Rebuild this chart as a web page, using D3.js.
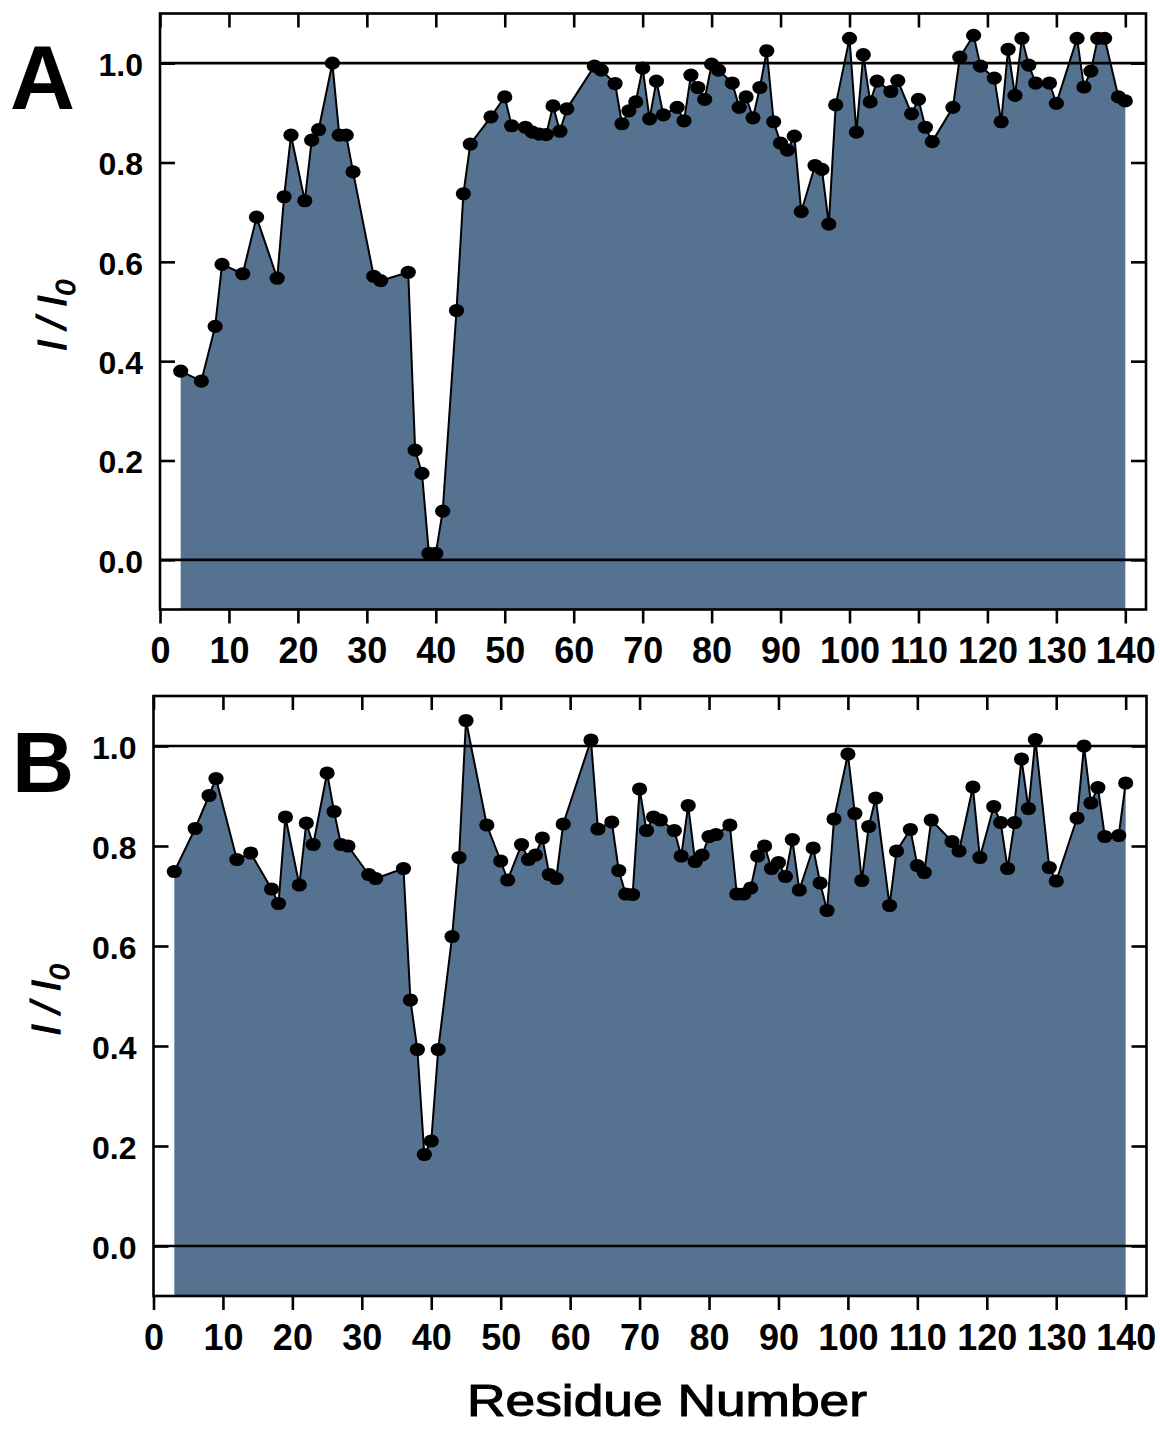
<!DOCTYPE html>
<html>
<head>
<meta charset="utf-8">
<script src="https://cdn.jsdelivr.net/npm/d3@7"></script>
<style>
  html, body { margin: 0; padding: 0; background: #ffffff; }
  svg { display: block; }
  text { font-family: "Liberation Sans", Arial, Helvetica, sans-serif; fill: #000; }
</style>
</head>
<body>
<svg id="chart" width="1160" height="1429"></svg>
<script>
// Relative peak intensity (I/I0) per residue, two conditions
const residuesA = [3,6,8,9,12,14,17,18,19,21,22,23,25,26,27,28,31,32,36,37,38,39,40,41,43,44,45,48,50,51,53,54,55,56,57,58,59,63,64,66,67,68,69,70,71,72,73,75,76,77,78,79,80,81,83,84,85,86,87,88,89,90,91,92,93,95,96,97,98,100,101,102,103,104,106,107,109,110,111,112,115,116,118,119,121,122,123,124,125,126,127,129,130,133,134,135,136,137,139,140];
const valuesA = [0.38,0.36,0.47,0.595,0.576,0.69,0.567,0.731,0.855,0.723,0.845,0.866,1.0,0.855,0.855,0.781,0.571,0.562,0.579,0.221,0.174,0.013,0.013,0.098,0.502,0.737,0.837,0.892,0.932,0.874,0.871,0.861,0.857,0.856,0.914,0.863,0.908,0.994,0.986,0.959,0.878,0.904,0.922,0.990,0.888,0.964,0.896,0.911,0.884,0.976,0.951,0.927,0.998,0.986,0.960,0.911,0.932,0.890,0.951,1.025,0.882,0.839,0.825,0.853,0.701,0.794,0.786,0.676,0.916,1.050,0.861,1.017,0.922,0.964,0.943,0.965,0.898,0.927,0.871,0.842,0.911,1.012,1.056,0.994,0.970,0.882,1.028,0.935,1.050,0.996,0.960,0.960,0.919,1.050,0.952,0.984,1.050,1.050,0.932,0.924];

const residuesB = [3,6,8,9,12,14,17,18,19,21,22,23,25,26,27,28,31,32,36,37,38,39,40,41,43,44,45,48,50,51,53,54,55,56,57,58,59,63,64,66,67,68,69,70,71,72,73,75,76,77,78,79,80,81,83,84,85,86,87,88,89,90,91,92,93,95,96,97,98,100,101,102,103,104,106,107,109,110,111,112,115,116,118,119,121,122,123,124,125,126,127,129,130,133,134,135,136,137,139,140];
const valuesB = [0.749,0.835,0.901,0.935,0.773,0.786,0.714,0.685,0.858,0.722,0.846,0.803,0.946,0.869,0.803,0.800,0.743,0.735,0.755,0.492,0.393,0.183,0.210,0.393,0.619,0.777,1.051,0.842,0.770,0.732,0.803,0.773,0.782,0.816,0.743,0.735,0.844,1.012,0.834,0.848,0.751,0.704,0.703,0.914,0.831,0.858,0.852,0.831,0.780,0.881,0.769,0.782,0.819,0.823,0.842,0.704,0.704,0.716,0.780,0.800,0.755,0.767,0.739,0.813,0.712,0.796,0.726,0.671,0.854,0.984,0.865,0.731,0.839,0.896,0.681,0.790,0.833,0.761,0.747,0.852,0.809,0.790,0.918,0.777,0.879,0.847,0.755,0.847,0.974,0.875,1.013,0.757,0.730,0.856,1.0,0.886,0.917,0.819,0.821,0.926];

const xTicks = [0,10,20,30,40,50,60,70,80,90,100,110,120,130,140];
const yTicks = [0.0,0.2,0.4,0.6,0.8,1.0];
const refLevels = [0.0, 1.0];
const xDomain = [0, 143];
const yDomain = [-0.1, 1.1];

const svg = d3.select("#chart");
const fillColor = "#557391";

function drawPanel(opts) {
  const data = opts.residues.map((r, i) => ({ r: r, v: opts.values[i] }));
  const x = d3.scaleLinear().domain(xDomain).range([opts.left, opts.right]);
  const y = d3.scaleLinear().domain(yDomain).range([opts.bottom, opts.top]);
  const g = svg.append("g");

  // shaded profile, filled down to the bottom of the frame
  const area = d3.area()
    .x(d => x(d.r))
    .y0(y(yDomain[0]))
    .y1(d => y(d.v));
  g.append("path").datum(data)
    .attr("d", area)
    .attr("fill", fillColor);

  // reference levels at 0 and 1
  g.selectAll("line.ref").data(refLevels).enter().append("line")
    .attr("class", "ref")
    .attr("x1", opts.left).attr("x2", opts.right)
    .attr("y1", d => y(d)).attr("y2", d => y(d))
    .attr("stroke", "#000").attr("stroke-width", 2.6);

  // connecting line
  const line = d3.line().x(d => x(d.r)).y(d => y(d.v));
  g.append("path").datum(data)
    .attr("d", line)
    .attr("fill", "none")
    .attr("stroke", "#000")
    .attr("stroke-width", 2)
    .attr("stroke-linejoin", "round");

  // markers
  g.selectAll("ellipse.pt").data(data).enter().append("ellipse")
    .attr("class", "pt")
    .attr("cx", d => x(d.r)).attr("cy", d => y(d.v))
    .attr("rx", 7.6).attr("ry", 6.6)
    .attr("fill", "#000");

  // axes: labelled bottom/left, ticks only on top/right, y ticks pointing in
  const fmtY = d3.format(".1f");
  const bottomAxis = d3.axisBottom(x).tickValues(xTicks).tickSize(14).tickPadding(14).tickFormat(d3.format("d"));
  const topAxis = d3.axisTop(x).tickValues(xTicks).tickSize(-14).tickFormat("");
  const leftAxis = d3.axisLeft(y).tickValues(yTicks).tickSize(-15).tickPadding(opts.left - opts.labelRight).tickFormat(fmtY);
  const rightAxis = d3.axisRight(y).tickValues(yTicks).tickSize(-15).tickFormat("");

  function styleAxis(sel) {
    sel.select(".domain").remove();
    sel.selectAll(".tick line").attr("stroke", "#000").attr("stroke-width", 2.6);
  }

  const gb = g.append("g").attr("transform", `translate(0,${opts.bottom})`).call(bottomAxis).call(styleAxis);
  gb.selectAll(".tick text")
    .attr("font-family", "'Liberation Sans', Arial, sans-serif")
    .attr("font-weight", "bold").attr("font-size", 36).attr("fill", "#000");
  g.append("g").attr("transform", `translate(0,${opts.top})`).call(topAxis).call(styleAxis);
  const gl = g.append("g").attr("transform", `translate(${opts.left},0)`).call(leftAxis).call(styleAxis);
  gl.selectAll(".tick text")
    .attr("font-family", "'Liberation Sans', Arial, sans-serif")
    .attr("font-weight", "bold").attr("font-size", 32).attr("fill", "#000")
    .attr("dy", "0.38em");
  g.append("g").attr("transform", `translate(${opts.right},0)`).call(rightAxis).call(styleAxis);

  // frame
  g.append("rect")
    .attr("x", opts.left).attr("y", opts.top)
    .attr("width", opts.right - opts.left).attr("height", opts.bottom - opts.top)
    .attr("fill", "none").attr("stroke", "#000").attr("stroke-width", 2.6);

  // y axis title: I / I0
  const yMid = (y(0) + y(1)) / 2 + opts.titleShift;
  const t = g.append("text")
    .attr("transform", `translate(${opts.titleX},${yMid}) rotate(-90)`)
    .attr("text-anchor", "middle")
    .attr("font-style", "italic")
    .attr("font-size", 40)
    .attr("stroke", "#000")
    .attr("stroke-width", 1.2);
  t.append("tspan").text("I / I");
  t.append("tspan").attr("font-size", 28).attr("dy", 9).text("0");

  // panel letter
  g.append("text")
    .attr("x", opts.letterX).attr("y", opts.letterY)
    .attr("font-weight", "bold").attr("font-size", opts.letterSize)
    .text(opts.letter);
}

drawPanel({
  residues: residuesA, values: valuesA,
  left: 160, right: 1146, top: 13.5, bottom: 609.5,
  labelRight: 143, titleX: 66, titleShift: 4,
  letter: "A", letterX: 10, letterY: 109, letterSize: 90
});

drawPanel({
  residues: residuesB, values: valuesB,
  left: 153.5, right: 1146.5, top: 696, bottom: 1296,
  labelRight: 136.5, titleX: 60, titleShift: 4,
  letter: "B", letterX: 12, letterY: 792, letterSize: 86
});

// shared x axis title
svg.append("text")
  .attr("x", 667).attr("y", 1416)
  .attr("text-anchor", "middle")
  .attr("font-size", 45)
  .attr("stroke", "#000")
  .attr("stroke-width", 1.1)
  .attr("textLength", 400)
  .attr("lengthAdjust", "spacingAndGlyphs")
  .text("Residue Number");
</script>
</body>
</html>
